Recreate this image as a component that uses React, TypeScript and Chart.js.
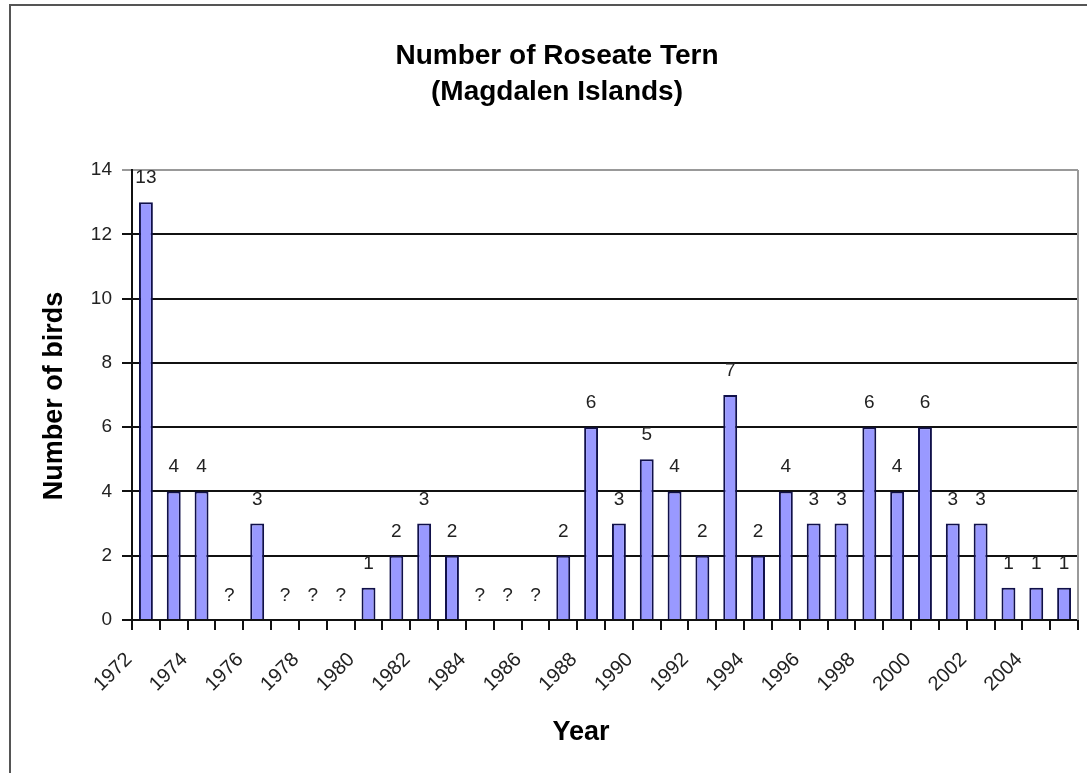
import React, { useEffect, useRef } from "react";
import { Chart, registerables } from "chart.js";

Chart.register(...registerables);

const years = [
  "1972", "1973", "1974", "1975", "1976", "1977", "1978", "1979", "1980", "1981",
  "1982", "1983", "1984", "1985", "1986", "1987", "1988", "1989", "1990", "1991",
  "1992", "1993", "1994", "1995", "1996", "1997", "1998", "1999", "2000", "2001",
  "2002", "2003", "2004", "2005",
];

// null = unknown count, shown as "?"
const birdCounts: (number | null)[] = [
  13, 4, 4, null, 3, null, null, null, 1, 2,
  3, 2, null, null, null, 2, 6, 3, 5, 4,
  2, 7, 2, 4, 3, 3, 6, 4, 6, 3,
  3, 1, 1, 1,
];

const yTicks = [0, 2, 4, 6, 8, 10, 12, 14];

const titleLines = ["Number of Roseate Tern", "(Magdalen Islands)"];
const yTitle = "Number of birds";
const xTitle = "Year";
const unknownLabel = "?";

const FONT = "Arial, 'Liberation Sans', sans-serif";

const labelsPlugin = {
  id: "barLabels",
  afterDatasetsDraw(chart: any) {
    const ctx = chart.ctx;
    const meta = chart.getDatasetMeta(0);
    const y = chart.scales.y;
    ctx.save();
    ctx.font = `19px ${FONT}`;
    ctx.fillStyle = "#222";
    ctx.textAlign = "center";
    ctx.textBaseline = "alphabetic";
    meta.data.forEach((_bar: any, i: number) => {
      const v = birdCounts[i];
      const x = chart.scales.x.getPixelForValue(i);
      const top = y.getPixelForValue(v == null ? 0 : v);
      ctx.fillText(v == null ? unknownLabel : String(v), x, top - 19);
    });
    ctx.restore();
  },
};

const textPlugin = {
  id: "chartTexts",
  afterDraw(chart: any) {
    const ctx = chart.ctx;
    const area = chart.chartArea;
    ctx.save();
    // plot-area right border
    ctx.strokeStyle = "#999";
    ctx.lineWidth = 2;
    ctx.beginPath();
    ctx.moveTo(area.right, area.top);
    ctx.lineTo(area.right, area.bottom);
    ctx.stroke();

    ctx.fillStyle = "#000";
    ctx.textAlign = "center";
    ctx.textBaseline = "alphabetic";
    ctx.font = `bold 28px ${FONT}`;
    ctx.fillText(titleLines[0], 557, 64);
    ctx.fillText(titleLines[1], 557, 100);

    ctx.font = `bold 27px ${FONT}`;
    ctx.fillText(xTitle, 581, 740);

    ctx.translate(62, 396);
    ctx.rotate(-Math.PI / 2);
    ctx.fillText(yTitle, 0, 0);
    ctx.restore();
  },
};

export default function App() {
  const ref = useRef<HTMLCanvasElement | null>(null);

  useEffect(() => {
    if (!ref.current) return;
    const chart = new Chart(ref.current, {
      type: "bar",
      data: {
        labels: years,
        datasets: [
          {
            label: "Number of birds",
            data: birdCounts,
            backgroundColor: "#9999FF",
            borderColor: "#10104a",
            borderWidth: 2,
            barPercentage: 0.5,
            categoryPercentage: 1,
          },
        ],
      },
      options: {
        responsive: false,
        animation: false,
        devicePixelRatio: 1,
        layout: { padding: { left: 0, top: 170, right: 9, bottom: 0 } },
        plugins: {
          legend: { display: false },
          title: { display: false },
          tooltip: { enabled: false },
        },
        scales: {
          x: {
            offset: true,
            afterFit: (s: any) => {
              s.height = 153;
              s.paddingLeft = 0;
              s.paddingRight = 0;
            },
            grid: {
              offset: true,
              drawOnChartArea: false,
              drawTicks: true,
              tickLength: 10,
              color: "#111",
              lineWidth: 2,
            },
            border: { color: "#111", width: 2 },
            ticks: {
              autoSkip: false,
              minRotation: 45,
              maxRotation: 45,
              padding: 18,
              labelOffset: -17,
              color: "#222",
              font: { family: FONT, size: 20 },
              callback: (_v: any, i: number) => (i % 2 === 0 ? years[i] : ""),
            },
          },
          y: {
            min: 0,
            max: 14,
            afterFit: (s: any) => {
              s.width = 132;
              s.paddingTop = 0;
              s.paddingBottom = 0;
            },
            afterBuildTicks: (s: any) => {
              s.ticks = yTicks.map((v) => ({ value: v }));
            },
            grid: {
              color: (c: any) => (c.tick && c.tick.value === 14 ? "#999" : "#111"),
              lineWidth: 2,
              tickLength: 10,
            },
            border: { color: "#111", width: 2 },
            ticks: {
              padding: 10,
              color: "#222",
              font: { family: FONT, size: 19 },
            },
          },
        },
      },
      plugins: [labelsPlugin, textPlugin],
    });
    return () => chart.destroy();
  }, []);

  return (
    <div
      style={{
        position: "fixed",
        left: 0,
        top: 0,
        width: 1087,
        height: 773,
        overflow: "hidden",
        background: "#fff",
      }}
    >
      <div
        style={{
          position: "absolute",
          left: 9,
          top: 4,
          width: 1300,
          height: 1000,
          border: "2px solid #555",
          boxSizing: "border-box",
        }}
      />
      <canvas
        ref={ref}
        width={1087}
        height={773}
        style={{ position: "absolute", left: 0, top: 0, width: 1087, height: 773 }}
      />
    </div>
  );
}
